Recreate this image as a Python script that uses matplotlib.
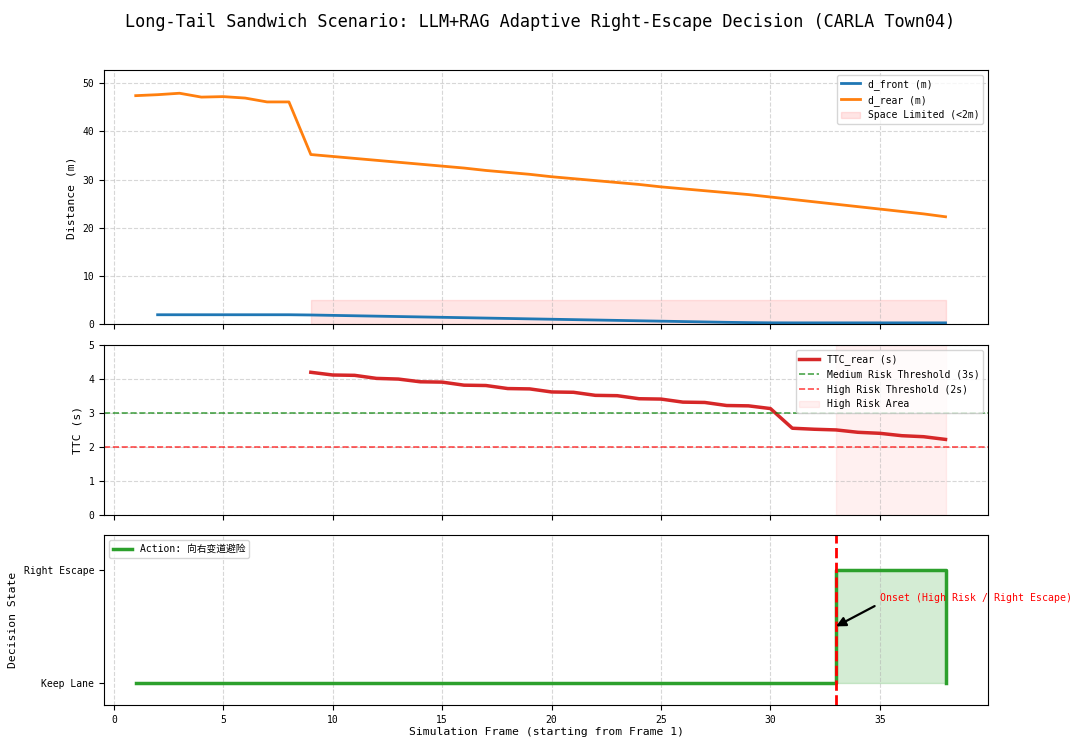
import numpy as np
import matplotlib
matplotlib.use('Agg')
import matplotlib.pyplot as plt

plt.rcParams['font.family'] = ['DejaVu Sans Mono', 'Noto Sans CJK SC']
plt.rcParams['axes.unicode_minus'] = False

frames = np.arange(1, 39)

# distances (m)
d_front = [np.nan, 2.0, 2.0, 2.0, 2.0, 2.0, 2.0, 2.0, 1.95, 1.87, 1.79, 1.71, 1.63,
           1.55, 1.47, 1.39, 1.31, 1.23, 1.15, 1.07, 0.99, 0.91, 0.83, 0.75, 0.67,
           0.59, 0.51, 0.43, 0.37, 0.33, 0.32, 0.32, 0.32, 0.32, 0.32, 0.32, 0.32, 0.32]
d_rear = [47.4, 47.6, 47.9, 47.1, 47.2, 46.9, 46.1, 46.1, 35.2, 34.8, 34.4, 34.0,
          33.6, 33.2, 32.8, 32.4, 31.9, 31.5, 31.1, 30.6, 30.2, 29.8, 29.4, 29.0,
          28.5, 28.1, 27.7, 27.3, 26.9, 26.4, 25.9, 25.4, 24.9, 24.4, 23.9, 23.4,
          22.9, 22.3]

# TTC to rear vehicle (s)
ttc_rear = [np.nan] * 8 + [4.20, 4.12, 4.11, 4.02, 4.00, 3.92, 3.91, 3.82, 3.81,
                           3.72, 3.71, 3.62, 3.61, 3.52, 3.51, 3.42, 3.41, 3.32,
                           3.31, 3.22, 3.21, 3.13, 2.55, 2.52, 2.50, 2.43, 2.40,
                           2.33, 2.30, 2.22]

# 0 = Keep Lane, 1 = Right Escape
action = [0] * 32 + [1] * 5 + [0]
state_labels = ['Keep Lane', 'Right Escape']

onset = 33
limit_start, limit_end = 9, 38

small = 7
label = 8.2

fig, axes = plt.subplots(3, 1, figsize=(10.8, 7.46), dpi=100, sharex=True,
                         gridspec_kw={'height_ratios': [1.5, 1, 1]})
fig.subplots_adjust(left=0.0963, right=0.915, top=0.906, bottom=0.055, hspace=0.105)

fig.suptitle('Long-Tail Sandwich Scenario: LLM+RAG Adaptive Right-Escape Decision (CARLA Town04)',
             fontsize=12.2, y=0.983)

# --- distances
ax1 = axes[0]
ax1.plot(frames, d_front, color='#1f77b4', lw=2, label='d_front (m)')
ax1.plot(frames, d_rear, color='#ff7f0e', lw=2, label='d_rear (m)')
ax1.fill_between([limit_start, limit_end], 0, 5, color='red', alpha=0.1,
                 label='Space Limited (<2m)')
ax1.set_ylim(0, np.nanmax(d_rear) * 1.1)
ax1.set_ylabel('Distance (m)', fontsize=label)
ax1.legend(loc='upper right', fontsize=small)
ax1.grid(True, linestyle='--', alpha=0.5)

# --- TTC
ax2 = axes[1]
ax2.plot(frames, ttc_rear, color='#d62728', lw=2.5, label='TTC_rear (s)')
ax2.axhline(3, color='green', linestyle='--', alpha=0.7, lw=1.2, label='Medium Risk Threshold (3s)')
ax2.axhline(2, color='red', linestyle='--', alpha=0.7, lw=1.2, label='High Risk Threshold (2s)')
ax2.axvspan(onset, limit_end, color='red', alpha=0.06, label='High Risk Area')
ax2.set_ylim(0, 5)
ax2.set_ylabel('TTC (s)', fontsize=label)
ax2.legend(loc='upper right', fontsize=small)
ax2.grid(True, linestyle='--', alpha=0.5)

# --- decision
ax3 = axes[2]
ax3.step(frames, action, where='post', color='#2ca02c', lw=2.5, label='Action: 向右变道避险')
ax3.fill_between(frames, 0, action, step='post', color='#2ca02c', alpha=0.2)
ax3.axvline(onset, color='red', linestyle='--', lw=2)
ax3.annotate('Onset (High Risk / Right Escape)', xy=(onset, 0.5), xytext=(35, 0.75),
             color='red', fontsize=7.1, va='center',
             arrowprops=dict(arrowstyle='-|>', color='black', lw=1.6, mutation_scale=14,
                             relpos=(0, 0), shrinkA=2, shrinkB=0))
ax3.set_yticks([0, 1])
ax3.set_yticklabels(state_labels)
ax3.set_ylim(-0.2, 1.31)
ax3.set_ylabel('Decision State', fontsize=label)
ax3.set_xlabel('Simulation Frame (starting from Frame 1)', fontsize=label, labelpad=2)
ax3.legend(loc='upper left', fontsize=small)
ax3.grid(True, axis='x', linestyle='--', alpha=0.5)

ax3.set_xlim(-0.45, 39.95)
ax3.set_xticks(range(0, 40, 5))
for ax in axes:
    ax.tick_params(labelsize=small)

fig.savefig('out.png', dpi=100)
